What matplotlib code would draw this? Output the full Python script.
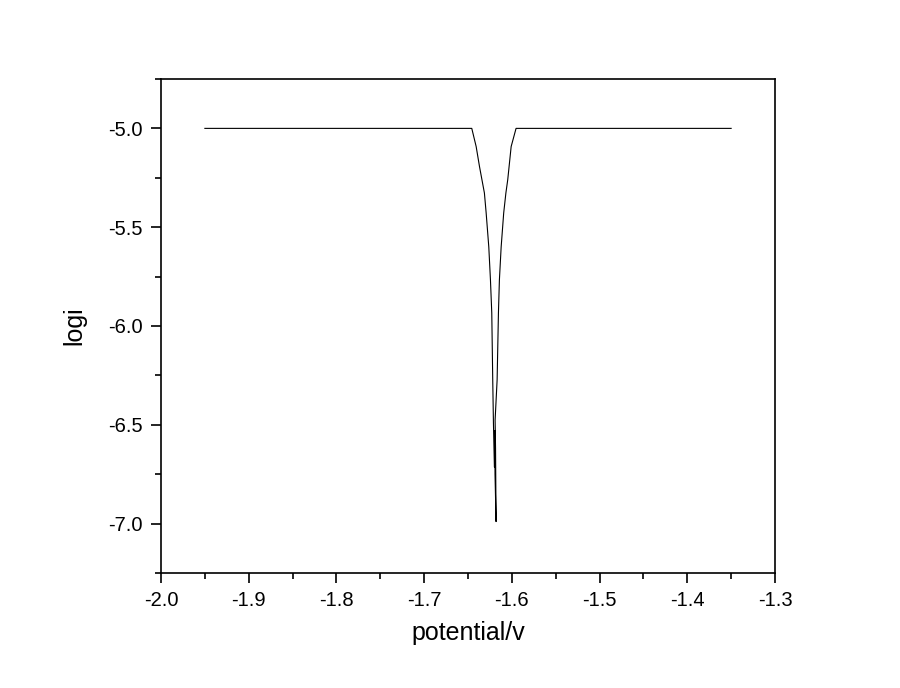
import matplotlib
matplotlib.use("Agg")
import matplotlib.pyplot as plt
from matplotlib.ticker import MultipleLocator

plt.rcParams['font.family'] = ['Liberation Sans', 'DejaVu Sans']

# polarization curve
potential = [-1.95, -1.6457, -1.6407, -1.6369, -1.6313, -1.6293, -1.6263, -1.6244,
             -1.6229, -1.6218, -1.6210, -1.6199, -1.6195, -1.6192, -1.6180,
             -1.6186, -1.6191, -1.6168, -1.6153, -1.6142, -1.6122, -1.6093,
             -1.6068, -1.6047, -1.6008, -1.5952, -1.35]
logi = [-5.0, -5.0, -5.092, -5.193, -5.327, -5.428, -5.60, -5.767,
        -5.934, -6.273, -6.491, -6.714, -6.53, -6.75, -6.99,
        -6.62, -6.476, -6.273, -5.934, -5.767, -5.60, -5.428,
        -5.327, -5.26, -5.092, -5.0, -5.0]

fig = plt.figure(figsize=(9, 6.88), dpi=100)
ax = fig.add_axes([0.1789, 0.1672, 0.6822, 0.718])

ax.plot(potential, logi, color='black', linewidth=0.8)

ax.set_xlim(-2.0, -1.3)
ax.set_ylim(-7.25, -4.75)
ax.xaxis.set_major_locator(MultipleLocator(0.1))
ax.xaxis.set_minor_locator(MultipleLocator(0.05))
ax.yaxis.set_major_locator(MultipleLocator(0.5))
ax.yaxis.set_minor_locator(MultipleLocator(0.25))
ax.xaxis.set_major_formatter(plt.FuncFormatter(lambda v, p: f"{v:.1f}"))
ax.yaxis.set_major_formatter(plt.FuncFormatter(lambda v, p: f"{v:.1f}"))

ax.tick_params(which='both', direction='out', top=False, right=False, width=1.2)
ax.tick_params(which='major', length=7, labelsize=14.5, pad=6)
ax.tick_params(which='minor', length=4)
for s in ax.spines.values():
    s.set_linewidth(1.2)

ax.set_xlabel('potential/v', fontsize=18, labelpad=8)
ax.set_ylabel('logi', fontsize=18, labelpad=16)

fig.savefig('out.png', dpi=100)
